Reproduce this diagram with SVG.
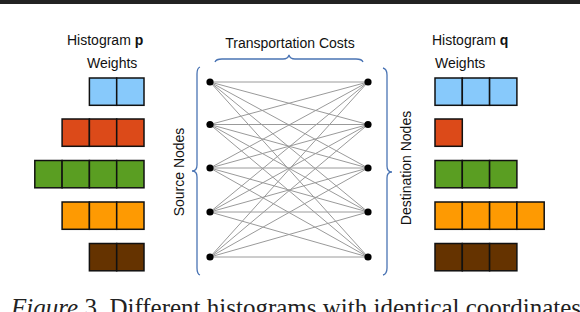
<svg xmlns="http://www.w3.org/2000/svg" width="580" height="312" viewBox="0 0 580 312">
<style>
text{font-family:"Liberation Sans",Arial,sans-serif;font-size:14px;fill:#111}
.cap{font-family:"Liberation Serif","Times New Roman",serif;font-size:25px;fill:#222}
.c{stroke:#111;stroke-width:1.5}
.b{fill:#87c9fb}.r{fill:#dc4a19}.g{fill:#5a9e22}.o{fill:#fe9a02}.w{fill:#653300}
.e{stroke:#9a9a9a;stroke-width:1;fill:none}
.br{stroke:#4a74b4;stroke-width:1.3;fill:none}
.d{fill:#000}
</style>
<rect x="0" y="0" width="580" height="4" fill="#222"/>
<g id="histP">
<text x="67" y="45">Histogram <tspan font-weight="bold">p</tspan></text>
<text x="87" y="68">Weights</text>
<g class="c">
<rect class="b" x="89.4" y="78" width="27.3" height="27.3"/><rect class="b" x="116.7" y="78" width="27.3" height="27.3"/>
<rect class="r" x="62.1" y="119" width="27.3" height="27.3"/><rect class="r" x="89.4" y="119" width="27.3" height="27.3"/><rect class="r" x="116.7" y="119" width="27.3" height="27.3"/>
<rect class="g" x="34.8" y="160.5" width="27.3" height="27.3"/><rect class="g" x="62.1" y="160.5" width="27.3" height="27.3"/><rect class="g" x="89.4" y="160.5" width="27.3" height="27.3"/><rect class="g" x="116.7" y="160.5" width="27.3" height="27.3"/>
<rect class="o" x="62.1" y="202" width="27.3" height="27.3"/><rect class="o" x="89.4" y="202" width="27.3" height="27.3"/><rect class="o" x="116.7" y="202" width="27.3" height="27.3"/>
<rect class="w" x="89.4" y="243.5" width="27.3" height="27.3"/><rect class="w" x="116.7" y="243.5" width="27.3" height="27.3"/>
</g>
</g>
<g id="histQ">
<text x="432" y="45">Histogram <tspan font-weight="bold">q</tspan></text>
<text x="435" y="68">Weights</text>
<g class="c">
<rect class="b" x="435" y="78" width="27.3" height="27.3"/><rect class="b" x="462.3" y="78" width="27.3" height="27.3"/><rect class="b" x="489.6" y="78" width="27.3" height="27.3"/>
<rect class="r" x="435" y="119" width="27.3" height="27.3"/>
<rect class="g" x="435" y="160.5" width="27.3" height="27.3"/><rect class="g" x="462.3" y="160.5" width="27.3" height="27.3"/><rect class="g" x="489.6" y="160.5" width="27.3" height="27.3"/>
<rect class="o" x="435" y="202" width="27.3" height="27.3"/><rect class="o" x="462.3" y="202" width="27.3" height="27.3"/><rect class="o" x="489.6" y="202" width="27.3" height="27.3"/><rect class="o" x="516.9" y="202" width="27.3" height="27.3"/>
<rect class="w" x="435" y="243.5" width="27.3" height="27.3"/><rect class="w" x="462.3" y="243.5" width="27.3" height="27.3"/><rect class="w" x="489.6" y="243.5" width="27.3" height="27.3"/>
</g>
</g>
<g id="connectors" class="e">
<path d="M210,82 L368,82 M210,82 L368,124.5 M210,82 L368,168 M210,82 L368,212 M210,82 L368,257
M210,124.5 L368,82 M210,124.5 L368,124.5 M210,124.5 L368,168 M210,124.5 L368,212 M210,124.5 L368,257
M210,168 L368,82 M210,168 L368,124.5 M210,168 L368,168 M210,168 L368,212 M210,168 L368,257
M210,212 L368,82 M210,212 L368,124.5 M210,212 L368,168 M210,212 L368,212 M210,212 L368,257
M210,257 L368,82 M210,257 L368,124.5 M210,257 L368,168 M210,257 L368,212 M210,257 L368,257"/>
</g>
<g id="source">
<circle class="d" cx="210" cy="82" r="3.6"/><circle class="d" cx="210" cy="124.5" r="3.6"/><circle class="d" cx="210" cy="168" r="3.6"/><circle class="d" cx="210" cy="212" r="3.6"/><circle class="d" cx="210" cy="257" r="3.6"/>
<path class="br" d="M200,67 Q197,68 197,74 L197,165 Q197,171 192,171 Q197,171 197,177 L197,268 Q197,274 200,275"/>
<text transform="translate(184,172) rotate(-90)" text-anchor="middle">Source Nodes</text>
</g>
<g id="destination">
<circle class="d" cx="368" cy="82" r="3.6"/><circle class="d" cx="368" cy="124.5" r="3.6"/><circle class="d" cx="368" cy="168" r="3.6"/><circle class="d" cx="368" cy="212" r="3.6"/><circle class="d" cx="368" cy="257" r="3.6"/>
<path class="br" d="M383,68 Q387,69 387,75 L387,166 Q387,172 392,172 Q387,172 387,178 L387,268 Q387,274 383,275"/>
<text transform="translate(411,168) rotate(-90)" text-anchor="middle">Destination Nodes</text>
</g>
<g id="costs">
<path class="br" d="M215,62 Q216,59 222,59 L283,59 Q288,59 289,55 Q290,59 295,59 L356,59 Q362,59 363,62"/>
<text x="290" y="48" text-anchor="middle">Transportation Costs</text>
</g>
<text class="cap" x="11" y="316"><tspan font-style="italic">Figure</tspan> 3. Different histograms with identical coordinates</text>
</svg>
